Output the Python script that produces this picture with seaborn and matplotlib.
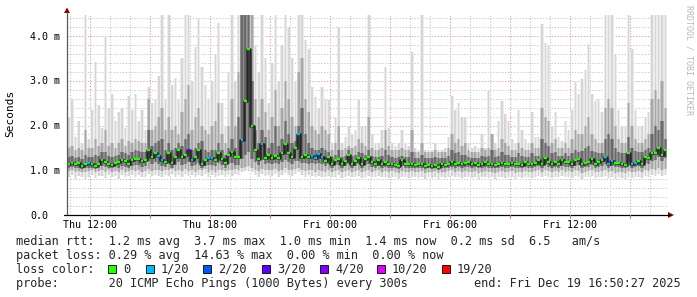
import numpy as np
import pandas as pd
import matplotlib
matplotlib.use("Agg")
import matplotlib.pyplot as plt
from matplotlib.lines import Line2D
from matplotlib.patches import Polygon, Rectangle
import seaborn as sns

# ---------------- data (10-minute columns, Thu 10:51 -> Fri 16:51) ----------------
# values in milliseconds
hi = [2.2, 2.6, 1.75, 2.1, 1.6, 4.47, 1.7, 2.35, 3.43, 2.45,
      1.95, 4.0, 2.4, 2.7, 2.1, 2.3, 2.4, 1.95, 2.65, 2.35,
      2.7, 2.1, 2.35, 1.9, 2.85, 2.5, 2.6, 3.1, 4.47, 2.6,
      4.47, 2.9, 3.06, 2.6, 3.5, 4.47, 4.47, 3.0, 3.75, 4.4,
      3.3, 2.9, 2.57, 3.0, 3.6, 4.3, 2.5, 2.0, 3.2, 4.47,
      3.0, 4.47, 4.47, 4.47, 4.47, 4.47, 3.8, 3.2, 4.47, 3.5,
      2.5, 3.4, 4.47, 3.0, 3.8, 4.47, 4.2, 3.5, 3.0, 4.47,
      4.47, 3.9, 3.7, 2.87, 2.64, 2.4, 2.87, 2.57, 2.57, 1.6,
      2.2, 4.2, 1.6, 1.75, 2.0, 1.8, 1.9, 2.57, 1.97, 1.97,
      4.47, 1.8, 1.6, 1.6, 1.9, 3.3, 1.95, 1.6, 1.55, 1.6,
      1.9, 1.6, 1.55, 3.65, 1.5, 1.45, 4.47, 1.45, 1.45, 1.45,
      1.6, 1.45, 1.45, 1.5, 1.75, 2.65, 2.35, 2.5, 2.2, 2.2,
      1.6, 1.5, 1.55, 1.5, 1.8, 1.5, 2.8, 1.6, 1.6, 2.1,
      2.55, 2.25, 2.1, 1.7, 1.6, 2.35, 1.9, 1.7, 1.6, 2.3,
      1.75, 1.75, 4.27, 3.85, 3.8, 2.0, 2.3, 1.75, 1.65, 2.1,
      1.9, 2.35, 3.0, 2.7, 3.05, 3.25, 3.82, 2.7, 2.55, 2.6,
      2.3, 4.47, 4.47, 4.47, 3.6, 2.35, 1.97, 2.0, 4.47, 3.7,
      2.35, 2.0, 1.97, 2.2, 2.3, 4.47, 4.47, 4.47, 4.47, 4.47]

mhi = [1.5, 1.55, 1.45, 1.5, 1.45, 1.9, 1.5, 1.5, 1.7, 1.55,
       1.6, 1.9, 1.55, 1.6, 1.5, 1.6, 1.7, 1.55, 1.65, 1.6,
       1.7, 1.65, 1.6, 1.6, 2.6, 1.9, 2.0, 2.2, 2.4, 1.9,
       2.2, 1.9, 2.0, 1.8, 2.3, 2.6, 2.9, 1.9, 2.2, 2.4,
       2.0, 1.9, 1.8, 2.0, 2.1, 2.5, 1.8, 1.6, 2.0, 2.6,
       2.0, 3.2, 4.47, 4.47, 4.47, 4.47, 2.6, 2.2, 2.6, 2.3,
       1.9, 2.2, 2.8, 2.0, 2.4, 3.0, 2.6, 2.2, 2.0, 3.2,
       3.5, 2.6, 2.3, 2.0, 1.9, 1.8, 2.0, 1.9, 1.8, 1.45,
       1.6, 2.0, 1.45, 1.5, 1.55, 1.5, 1.55, 1.7, 1.6, 1.55,
       2.2, 1.5, 1.45, 1.45, 1.5, 1.9, 1.55, 1.45, 1.45, 1.45,
       1.5, 1.45, 1.45, 1.9, 1.4, 1.4, 1.6, 1.4, 1.4, 1.4,
       1.45, 1.4, 1.4, 1.4, 1.5, 1.8, 1.6, 1.7, 1.55, 1.6,
       1.45, 1.4, 1.4, 1.4, 1.5, 1.45, 1.5, 1.8, 1.45, 1.5,
       1.7, 1.6, 1.55, 1.45, 1.45, 1.6, 1.5, 1.45, 1.45, 1.6,
       1.5, 1.5, 2.4, 2.2, 2.1, 1.6, 1.7, 1.5, 1.5, 1.6,
       1.5, 1.7, 1.9, 1.8, 1.8, 2.0, 2.2, 1.8, 1.7, 1.6,
       1.6, 2.4, 2.6, 2.4, 2.0, 1.7, 1.6, 1.6, 2.5, 2.0,
       1.7, 1.6, 1.6, 1.7, 1.8, 2.6, 2.8, 2.6, 3.0, 2.4]

dhi = [1.3, 1.32, 1.28, 1.3, 1.25, 1.35, 1.3, 1.3, 1.35, 1.32,
       1.4, 1.4, 1.32, 1.3, 1.32, 1.35, 1.4, 1.38, 1.35, 1.4,
       1.45, 1.42, 1.4, 1.4, 1.9, 1.55, 1.6, 1.65, 1.7, 1.45,
       1.6, 1.45, 1.5, 1.6, 1.55, 1.7, 1.8, 1.45, 1.5, 1.6,
       1.65, 1.45, 1.4, 1.45, 1.45, 1.6, 1.45, 1.35, 1.5, 1.7,
       1.5, 2.2, 4.47, 4.47, 4.47, 3.0, 1.9, 1.6, 1.9, 1.75,
       1.5, 1.6, 2.0, 1.55, 1.7, 2.1, 1.8, 1.6, 1.65, 2.0,
       2.4, 1.8, 1.6, 1.5, 1.45, 1.45, 1.5, 1.45, 1.4, 1.3,
       1.35, 1.45, 1.3, 1.32, 1.45, 1.32, 1.35, 1.4, 1.38, 1.35,
       1.45, 1.32, 1.3, 1.3, 1.32, 1.45, 1.35, 1.3, 1.28, 1.3,
       1.32, 1.3, 1.3, 1.4, 1.28, 1.28, 1.35, 1.28, 1.28, 1.28,
       1.3, 1.28, 1.28, 1.28, 1.32, 1.45, 1.38, 1.4, 1.35, 1.35,
       1.3, 1.28, 1.28, 1.28, 1.32, 1.3, 1.32, 1.45, 1.3, 1.32,
       1.4, 1.35, 1.35, 1.3, 1.3, 1.38, 1.32, 1.3, 1.3, 1.38,
       1.32, 1.32, 1.7, 1.6, 1.55, 1.38, 1.4, 1.32, 1.32, 1.38,
       1.32, 1.38, 1.45, 1.4, 1.42, 1.5, 1.55, 1.42, 1.4, 1.38,
       1.38, 1.7, 1.8, 1.7, 1.5, 1.4, 1.38, 1.38, 1.75, 1.5,
       1.42, 1.4, 1.4, 1.45, 1.5, 1.8, 2.0, 1.9, 2.1, 1.7]

med = [1.15, 1.17, 1.14, 1.16, 1.10, 1.14, 1.16, 1.13, 1.10, 1.15,
       1.22, 1.18, 1.15, 1.12, 1.16, 1.18, 1.22, 1.20, 1.15, 1.22,
       1.26, 1.25, 1.20, 1.22, 1.45, 1.30, 1.38, 1.32, 1.22, 1.18,
       1.38, 1.16, 1.30, 1.45, 1.30, 1.34, 1.46, 1.23, 1.30, 1.45,
       1.15, 1.23, 1.27, 1.27, 1.23, 1.38, 1.25, 1.16, 1.34, 1.41,
       1.30, 1.30, 1.68, 2.55, 3.70, 2.00, 1.45, 1.25, 1.59, 1.28,
       1.34, 1.27, 1.31, 1.27, 1.38, 1.59, 1.38, 1.30, 1.50, 1.80,
       1.30, 1.33, 1.30, 1.32, 1.27, 1.37, 1.30, 1.20, 1.30, 1.15,
       1.24, 1.26, 1.14, 1.21, 1.35, 1.14, 1.20, 1.28, 1.14, 1.25,
       1.30, 1.19, 1.15, 1.23, 1.15, 1.19, 1.14, 1.15, 1.12, 1.09,
       1.23, 1.14, 1.14, 1.14, 1.12, 1.15, 1.14, 1.09, 1.12, 1.09,
       1.12, 1.08, 1.14, 1.12, 1.15, 1.19, 1.14, 1.17, 1.15, 1.17,
       1.19, 1.15, 1.17, 1.12, 1.15, 1.19, 1.14, 1.15, 1.12, 1.15,
       1.17, 1.14, 1.15, 1.17, 1.14, 1.15, 1.12, 1.19, 1.15, 1.14,
       1.17, 1.23, 1.15, 1.27, 1.19, 1.15, 1.19, 1.15, 1.23, 1.19,
       1.19, 1.14, 1.23, 1.25, 1.15, 1.17, 1.19, 1.25, 1.15, 1.19,
       1.23, 1.30, 1.14, 1.21, 1.17, 1.17, 1.14, 1.12, 1.38, 1.14,
       1.17, 1.21, 1.15, 1.30, 1.27, 1.38, 1.38, 1.50, 1.33, 1.45]

dlo = [1.06, 1.08, 1.04, 1.06, 1.02, 1.05, 1.06, 1.05, 1.02, 1.06,
       1.10, 1.08, 1.06, 1.04, 1.07, 1.06, 1.10, 1.08, 1.06, 1.10,
       1.12, 1.12, 1.08, 1.10, 1.20, 1.14, 1.18, 1.15, 1.10, 1.08,
       1.16, 1.06, 1.12, 1.18, 1.12, 1.14, 1.18, 1.10, 1.12, 1.16,
       1.06, 1.10, 1.12, 1.12, 1.10, 1.16, 1.12, 1.06, 1.14, 1.16,
       1.12, 1.12, 1.25, 1.35, 1.40, 1.25, 1.18, 1.12, 1.22, 1.14,
       1.16, 1.14, 1.16, 1.14, 1.18, 1.22, 1.18, 1.14, 1.20, 1.20,
       1.16, 1.16, 1.14, 1.16, 1.14, 1.16, 1.14, 1.10, 1.14, 1.06,
       1.12, 1.12, 1.05, 1.10, 1.14, 1.05, 1.10, 1.14, 1.05, 1.12,
       1.14, 1.08, 1.06, 1.10, 1.06, 1.08, 1.05, 1.06, 1.04, 1.02,
       1.10, 1.05, 1.05, 1.06, 1.04, 1.06, 1.05, 1.02, 1.04, 1.02,
       1.04, 1.00, 1.05, 1.04, 1.06, 1.08, 1.05, 1.08, 1.06, 1.08,
       1.08, 1.06, 1.08, 1.04, 1.06, 1.08, 1.05, 1.06, 1.04, 1.06,
       1.08, 1.05, 1.06, 1.08, 1.05, 1.06, 1.04, 1.08, 1.06, 1.05,
       1.08, 1.10, 1.06, 1.12, 1.08, 1.06, 1.08, 1.06, 1.10, 1.08,
       1.08, 1.05, 1.10, 1.12, 1.06, 1.08, 1.08, 1.12, 1.06, 1.08,
       1.10, 1.14, 1.05, 1.10, 1.08, 1.08, 1.05, 1.04, 1.18, 1.05,
       1.08, 1.10, 1.06, 1.16, 1.14, 1.20, 1.22, 1.30, 1.20, 1.28]

mlo = [0.98, 1.00, 0.95, 0.98, 0.96, 0.95, 0.98, 1.00, 0.95, 0.98,
       1.00, 0.97, 1.00, 0.96, 0.99, 0.95, 1.00, 0.97, 0.98, 1.00,
       0.98, 1.00, 0.97, 0.98, 1.02, 0.99, 1.01, 1.00, 0.98, 1.00,
       1.00, 1.02, 0.98, 1.01, 0.98, 1.02, 0.99, 1.00, 0.97, 1.01,
       1.00, 1.02, 0.97, 1.00, 0.97, 1.00, 1.01, 0.98, 1.01, 1.00,
       1.02, 1.01, 1.05, 1.08, 1.10, 1.05, 1.01, 0.98, 1.02, 1.00,
       1.01, 1.00, 1.02, 0.98, 1.01, 1.04, 1.01, 1.00, 1.02, 1.05,
       1.01, 0.98, 1.01, 1.00, 0.97, 1.00, 0.98, 0.97, 1.00, 0.96,
       0.98, 1.00, 0.95, 0.98, 1.00, 0.96, 0.98, 1.00, 0.95, 0.98,
       1.00, 0.97, 0.98, 1.00, 0.96, 0.98, 0.95, 0.98, 0.96, 0.94,
       0.98, 0.96, 0.95, 0.98, 0.96, 0.95, 0.98, 0.94, 0.96, 0.95,
       0.98, 0.94, 0.96, 0.95, 0.98, 1.00, 0.96, 0.98, 0.95, 0.98,
       0.96, 0.95, 0.98, 0.94, 0.96, 0.98, 0.95, 0.96, 0.94, 0.96,
       0.98, 0.95, 0.96, 0.98, 0.94, 0.96, 0.95, 0.98, 0.96, 0.95,
       0.98, 1.00, 0.96, 1.00, 0.98, 0.95, 0.98, 0.96, 1.00, 0.96,
       0.98, 0.95, 1.00, 0.98, 0.94, 0.96, 0.98, 1.00, 0.95, 0.96,
       0.98, 1.00, 0.95, 0.98, 0.94, 0.96, 0.95, 0.94, 0.98, 0.95,
       0.96, 0.98, 0.95, 1.00, 0.98, 1.02, 1.00, 1.04, 1.00, 1.02]

lo = [0.85, 0.90, 0.80, 0.88, 0.84, 0.80, 0.86, 0.90, 0.82, 0.87,
      0.88, 0.83, 0.90, 0.85, 0.88, 0.80, 0.90, 0.84, 0.88, 0.90,
      0.86, 0.90, 0.84, 0.85, 0.92, 0.87, 0.90, 0.88, 0.85, 0.90,
      0.88, 0.92, 0.85, 0.90, 0.86, 0.92, 0.87, 0.90, 0.84, 0.90,
      0.88, 0.92, 0.84, 0.90, 0.84, 0.88, 0.90, 0.85, 0.90, 0.88,
      0.92, 0.90, 0.95, 0.98, 1.00, 0.95, 0.90, 0.86, 0.92, 0.88,
      0.90, 0.88, 0.92, 0.86, 0.90, 0.94, 0.90, 0.88, 0.92, 0.95,
      0.90, 0.86, 0.90, 0.88, 0.84, 0.88, 0.86, 0.84, 0.88, 0.84,
      0.86, 0.90, 0.82, 0.86, 0.88, 0.84, 0.86, 0.88, 0.82, 0.86,
      0.88, 0.84, 0.86, 0.88, 0.84, 0.86, 0.82, 0.86, 0.84, 0.80,
      0.86, 0.84, 0.82, 0.86, 0.84, 0.82, 0.86, 0.80, 0.84, 0.82,
      0.86, 0.80, 0.84, 0.82, 0.86, 0.88, 0.84, 0.86, 0.82, 0.86,
      0.84, 0.82, 0.86, 0.80, 0.84, 0.86, 0.82, 0.84, 0.80, 0.84,
      0.86, 0.82, 0.84, 0.86, 0.80, 0.84, 0.82, 0.86, 0.84, 0.82,
      0.86, 0.88, 0.84, 0.88, 0.86, 0.82, 0.86, 0.84, 0.88, 0.84,
      0.86, 0.82, 0.88, 0.86, 0.80, 0.84, 0.86, 0.88, 0.82, 0.84,
      0.86, 0.88, 0.82, 0.86, 0.80, 0.84, 0.82, 0.80, 0.86, 0.82,
      0.84, 0.86, 0.82, 0.88, 0.86, 0.90, 0.88, 0.92, 0.88, 0.90]

# lost pings (out of 20) per column
loss = [0, 0, 0, 0, 0, 0, 1, 0, 0, 0, 0, 0, 0, 0, 0, 0, 0, 0, 0, 0, 0, 0, 0, 0, 0, 0, 0, 1, 1, 0,
        0, 0, 0, 0, 0, 0, 3, 1, 0, 0, 0, 0, 1, 1, 0, 0, 0, 0, 0, 0, 0, 0, 1, 0, 0, 0, 0, 0, 1, 0,
        0, 0, 0, 0, 0, 0, 0, 0, 0, 1, 0, 0, 0, 1, 1, 1, 1, 0, 0, 0, 0, 0, 0, 0, 0, 0, 0, 0, 0, 0,
        0, 0, 0, 0, 0, 0, 0, 0, 0, 0, 0, 0, 0, 0, 0, 0, 0, 0, 0, 0, 0, 0, 0, 0, 0, 0, 0, 0, 0, 0,
        0, 0, 0, 0, 0, 0, 0, 0, 0, 0, 0, 0, 0, 0, 0, 0, 0, 0, 0, 0, 0, 0, 0, 0, 0, 0, 0, 0, 0, 0,
        0, 0, 0, 0, 0, 0, 0, 0, 0, 0, 0, 1, 1, 1, 0, 0, 0, 0, 0, 1, 1, 0, 0, 0, 0, 0, 0, 0, 0, 0]

loss_levels = ["0", "1/20", "2/20", "3/20", "4/20", "10/20", "19/20"]
loss_counts = [0, 1, 2, 3, 4, 10, 19]
loss_colors = ["#26ff00", "#00b8ff", "#0059ff", "#5e00ff", "#7e00ff", "#dd00ff", "#ff0000"]

xtick_hours = [0, 6, 12, 18, 24]
xtick_labels = ["Thu 12:00", "Thu 18:00", "Fri 00:00", "Fri 06:00", "Fri 12:00"]
ytick_values = [0, 1, 2, 3, 4]
ytick_labels = ["0.0", "1.0 m", "2.0 m", "3.0 m", "4.0 m"]

legend_rtt = "median rtt:  1.2 ms avg  3.7 ms max  1.0 ms min  1.4 ms now  0.2 ms sd  6.5   am/s"
legend_loss = "packet loss: 0.29 % avg  14.63 % max  0.00 % min  0.00 % now"
probe_text = "probe:       20 ICMP Echo Pings (1000 Bytes) every 300s"
end_text = "end: Fri Dec 19 16:50:27 2025"

# ---------------- figure ----------------
sns.set_theme(style="white")
plt.rcParams['font.family'] = ['DejaVu Sans Mono', 'DejaVu Sans']

W, H = 697, 297
fig = plt.figure(figsize=(W / 100, H / 100), dpi=100)
fig.patch.set_facecolor("white")

def fx(x):
    return x / W

def fy(y):
    return 1 - y / H

PX_PER_MS = 44.75
ax = fig.add_axes([fx(67), fy(215), 600 / W, 200 / H])
ax.set_facecolor("white")
start_h = -1.15
step_h = 1 / 6
n = len(med)
edges = start_h + np.arange(n + 1) * step_h
mids = edges[:-1] + step_h / 2
ax.set_xlim(edges[0], edges[-1])
ax.set_ylim(0, 200 / PX_PER_MS)
for s in ax.spines.values():
    s.set_visible(False)
ax.set_xticks([])
ax.set_yticks([])

# grid
dot = (0, (1.2, 1.6))
for h in range(-1, 29):
    c = "#e3a3a3" if h % 3 == 0 else "#c8c8c8"
    ax.axvline(h, color=c, lw=0.75, ls=dot, zorder=0)
for v in np.arange(0.2, 4.45, 0.2):
    c = "#e3a3a3" if abs(v - round(v)) < 1e-6 else "#c8c8c8"
    ax.axhline(v, color=c, lw=0.75, ls=dot, zorder=0)

# smoke: a soft full-width layer plus a narrower, denser layer per band
hi_a, lo_a = np.array(hi), np.array(lo)
mhi_a, mlo_a = np.array(mhi), np.array(mlo)
dhi_a, dlo_a = np.array(dhi), np.array(dlo)
narrow = step_h * 0.5

ax.stairs(hi_a, edges, baseline=lo_a, fill=True, color="#ececec", lw=0, zorder=1)
ax.bar(mids, hi_a - lo_a, bottom=lo_a, width=narrow, color="#d6d6d6", lw=0, zorder=1.5)
ax.stairs(mhi_a, edges, baseline=mlo_a, fill=True, color="#c8c8c8", lw=0, zorder=2)
ax.bar(mids, mhi_a - mlo_a, bottom=mlo_a, width=narrow, color="#a8a8a8", lw=0, zorder=2.5)
ax.stairs(dhi_a, edges, baseline=dlo_a, fill=True, color="#8c8c8c", lw=0, zorder=3)
ax.bar(mids, dhi_a - dlo_a, bottom=dlo_a, width=narrow, color="#6a6a6a", lw=0, zorder=3.5)

# median: dark step line, coloured by loss on each sample
sns.lineplot(x=mids, y=med, drawstyle="steps-mid", color="#262626", lw=1.8,
             ax=ax, zorder=4)
df = pd.DataFrame({
    "t0": edges[:-1] + step_h * 0.12,
    "t1": edges[1:] - step_h * 0.12,
    "median": med,
    "loss": [loss_levels[loss_counts.index(v)] for v in loss],
})
pal = dict(zip(loss_levels, loss_colors))
ax.hlines(df["median"], df["t0"], df["t1"], colors=[pal[l] for l in df["loss"]],
          lw=1.7, zorder=5)
ax.set_xlabel("")
ax.set_ylabel("")

# axes lines and arrows
fig.add_artist(Line2D([fx(67), fx(67)], [fy(215), fy(12)], color="#5a5a5a", lw=0.9))
fig.add_artist(Line2D([fx(64), fx(670)], [fy(215), fy(215)], color="#000000", lw=0.9))
fig.add_artist(Polygon([(fx(64), fy(13)), (fx(70), fy(13)), (fx(67), fy(7.5))],
                       closed=True, color="#8b0000", lw=0))
fig.add_artist(Polygon([(fx(668), fy(212)), (fx(668), fy(218)), (fx(674), fy(215))],
                       closed=True, color="#8b0000", lw=0))
for h in range(0, 29, 3):
    xp = 90 + 20 * h
    fig.add_artist(Line2D([fx(xp), fx(xp)], [fy(215), fy(218)], color="#d08080", lw=0.8))

# tick labels
for h, lab in zip(xtick_hours, xtick_labels):
    fig.text(fx(90 + 20 * h), fy(228), lab, ha="center", va="baseline", fontsize=7.2,
             color="#000000")
for v, lab in zip(ytick_values, ytick_labels):
    fig.text(fx(30), fy(215 - PX_PER_MS * v + 3.6), lab, ha="left", va="baseline",
             fontsize=7.2, color="#000000")
fig.text(fx(10.5), fy(113.5), "Seconds", rotation=90, ha="center", va="center",
         fontsize=8.0, color="#000000")
fig.text(fx(688.5), fy(60), "RRDTOOL / TOBI OETIKER", rotation=270, ha="center",
         va="center", fontsize=6.0, color="#b8b8b8")

# legend block
LF = 8.55
fig.text(fx(16), fy(245), legend_rtt, ha="left", va="baseline", fontsize=LF)
fig.text(fx(16), fy(259), legend_loss, ha="left", va="baseline", fontsize=LF)
fig.text(fx(16), fy(273), "loss color:", ha="left", va="baseline", fontsize=LF)
box_x = [108, 146, 203, 262, 320, 377, 442]
for bx, lab, col in zip(box_x, loss_levels, loss_colors):
    fig.add_artist(Rectangle((fx(bx), fy(273)), 8 / W, 8 / H, facecolor=col,
                             edgecolor="#000000", lw=0.6))
    fig.text(fx(bx + 15), fy(273), lab, ha="left", va="baseline", fontsize=LF)
fig.text(fx(16), fy(287), probe_text, ha="left", va="baseline", fontsize=LF)
fig.text(fx(681), fy(287), end_text, ha="right", va="baseline", fontsize=LF)

fig.savefig("out.png", dpi=100, facecolor="white")
